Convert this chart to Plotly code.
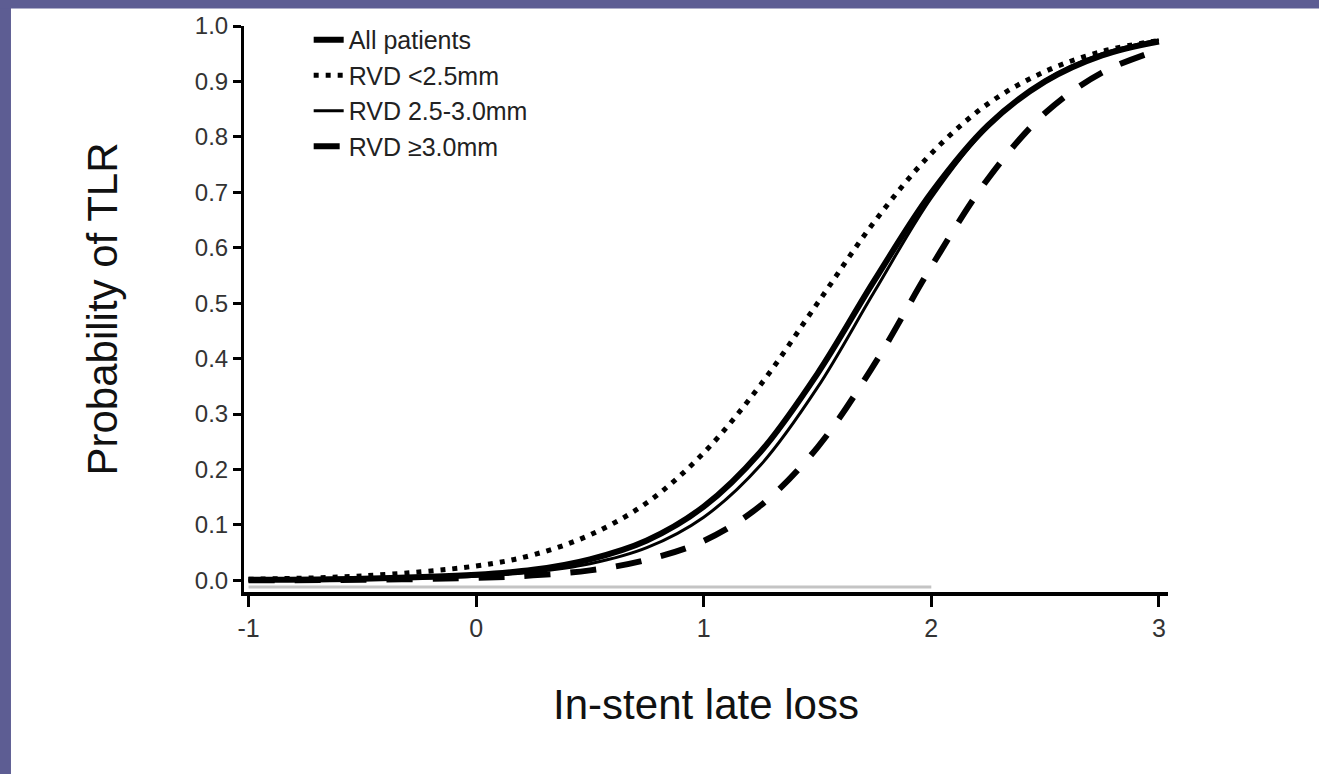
import plotly.graph_objects as go

# ---- data ----
late_loss = [-1.0, -0.5, 0.0, 0.25, 0.5, 0.75, 1.0, 1.25, 1.5, 1.75, 2.0, 2.25, 2.5, 2.75, 3.0]

p_all = [0.001, 0.003, 0.010, 0.019, 0.038, 0.072, 0.133, 0.232, 0.373, 0.541, 0.699, 0.821, 0.900, 0.947, 0.972]
p_rvd_lt25 = [0.002, 0.008, 0.026, 0.046, 0.082, 0.140, 0.230, 0.353, 0.500, 0.647, 0.770, 0.860, 0.918, 0.954, 0.974]
p_rvd_25_30 = [0.0004, 0.0018, 0.0074, 0.015, 0.030, 0.059, 0.114, 0.208, 0.348, 0.521, 0.690, 0.819, 0.902, 0.950, 0.975]
p_rvd_ge30 = [0.0003, 0.001, 0.0045, 0.009, 0.018, 0.037, 0.071, 0.135, 0.240, 0.390, 0.566, 0.725, 0.843, 0.916, 0.957]

baseline_x = [-1.0, 2.0]
baseline_y = [-0.012, -0.012]

series_names = ["All patients", "RVD <2.5mm", "RVD 2.5-3.0mm", "RVD \u22653.0mm"]

x_tickvals = [-1, 0, 1, 2, 3]
x_ticktext = ["-1", "0", "1", "2", "3"]
y_tickvals = [0.0, 0.1, 0.2, 0.3, 0.4, 0.5, 0.6, 0.7, 0.8, 0.9, 1.0]
y_ticktext = ["0.0", "0.1", "0.2", "0.3", "0.4", "0.5", "0.6", "0.7", "0.8", "0.9", "1.0"]

FONT = "Liberation Sans, Arial, sans-serif"
SLIDE = "#5d5d93"

fig = go.Figure()

fig.add_trace(go.Scatter(x=baseline_x, y=baseline_y, mode="lines",
                         line=dict(color="#c4c4c4", width=3),
                         showlegend=False, hoverinfo="skip"))

fig.add_trace(go.Scatter(x=late_loss, y=p_all, mode="lines", name=series_names[0],
                         line=dict(color="black", width=6, shape="spline")))
fig.add_trace(go.Scatter(x=late_loss, y=p_rvd_lt25, mode="lines", name=series_names[1],
                         line=dict(color="black", width=5, dash="5px,7px", shape="spline")))
fig.add_trace(go.Scatter(x=late_loss, y=p_rvd_25_30, mode="lines", name=series_names[2],
                         line=dict(color="black", width=3, shape="spline")))
fig.add_trace(go.Scatter(x=late_loss, y=p_rvd_ge30, mode="lines", name=series_names[3],
                         line=dict(color="black", width=6, dash="26px,20px", shape="spline")))

fig.update_layout(
    width=1319, height=774,
    margin=dict(l=244, r=151, t=22, b=182),
    paper_bgcolor="white",
    plot_bgcolor="white",
    font=dict(family=FONT, color="#111"),
    showlegend=True,
    legend=dict(x=0.07, y=1.016, xanchor="left", yanchor="top",
                bgcolor="rgba(0,0,0,0)", font=dict(size=25, color="#222"),
                tracegroupgap=0, itemwidth=30),
    shapes=[
        # slide background strips (left and top)
        dict(type="rect", xref="paper", yref="paper",
             x0=-0.30, x1=-0.2522, y0=-0.40, y1=1.10,
             fillcolor=SLIDE, line=dict(width=0), layer="below"),
        dict(type="rect", xref="paper", yref="paper",
             x0=-0.30, x1=1.25, y0=1.031, y1=1.10,
             fillcolor=SLIDE, line=dict(width=0), layer="below"),
    ],
)

fig.update_xaxes(
    range=[-1.02, 3.04], showgrid=False, zeroline=False,
    showline=True, linecolor="black", linewidth=4,
    tickmode="array", tickvals=x_tickvals, ticktext=x_ticktext,
    ticks="outside", ticklen=11, tickwidth=3, tickcolor="black",
    tickfont=dict(size=25, color="#333"),
    title=dict(text="In-stent late loss", font=dict(size=42, color="#111"), standoff=50),
)
fig.update_yaxes(
    range=[-0.021, 1.0], showgrid=False, zeroline=False,
    showline=True, linecolor="black", linewidth=3,
    tickmode="array", tickvals=y_tickvals, ticktext=y_ticktext,
    ticks="outside", ticklen=8, tickwidth=3, tickcolor="black",
    tickfont=dict(size=24, color="#333"),
    title=dict(text="Probability of TLR", font=dict(size=42, color="#111"), standoff=65),
)

fig.write_html(
    "out.html",
    config={"displayModeBar": False},
    post_script="document.body.style.margin='0';document.body.style.padding='0';"
                "document.documentElement.style.overflow='hidden';",
)
